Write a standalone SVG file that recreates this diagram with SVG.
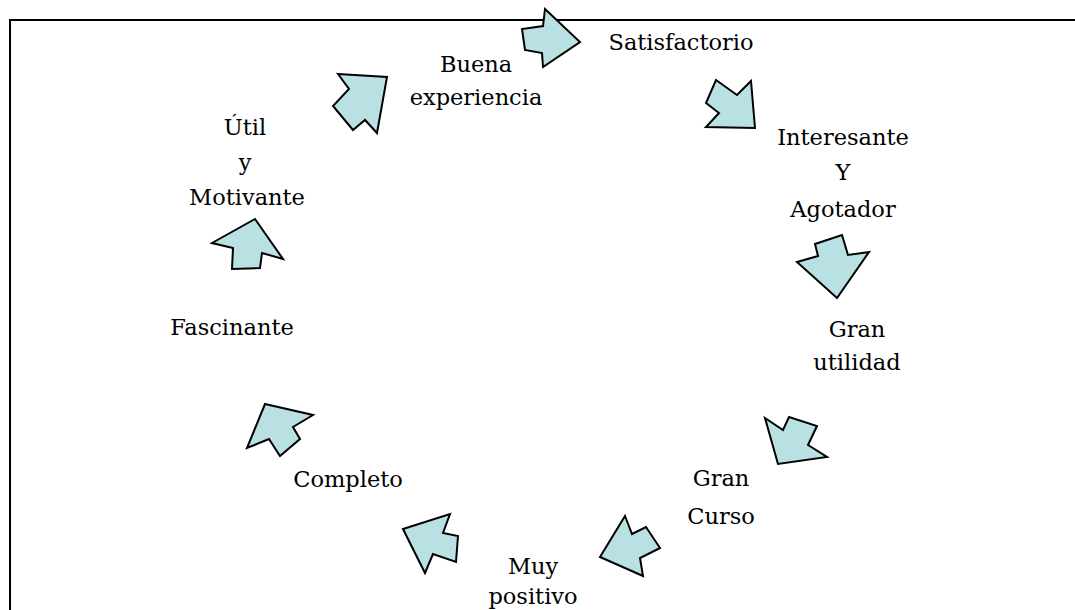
<svg xmlns="http://www.w3.org/2000/svg" width="1075" height="610" viewBox="0 0 1075 610">
<style>
.frame{fill:none;stroke:#000;stroke-width:2}
.arr{fill:#b9e0e3;stroke:#000;stroke-width:2;stroke-linejoin:miter}
text{font-family:"DejaVu Serif","Liberation Serif",serif;font-size:22.5px;fill:#000;text-anchor:middle}
</style>
<rect width="1075" height="610" fill="#fff"/>
<path class="frame" d="M10,610 V20 H1075"/>
<g id="connectors">
<polygon class="arr" points="545,9 580,42 543,67 542,53 525,50 522,29 543,26"/>
<polygon class="arr" points="716,80 737,95 751,81 755,128 706,127 719,113 706,103"/>
<polygon class="arr" points="815,244 842,235 848,255 869,252 837,298 797,262 818,256"/>
<polygon class="arr" points="765,418 783,430 789,417 817,426 808,445 827,457 778,464"/>
<polygon class="arr" points="625,516 632,534 646,527 660,548 640,558 643,576 600,557"/>
<polygon class="arr" points="403,529 450,514 443,533 458,536 456,562 433,554 425,573"/>
<polygon class="arr" points="265,404 313,415 293,427 300,439 280,456 269,439 247,448"/>
<polygon class="arr" points="255,219 283,259 262,253 260,268 232,269 233,248 212,243"/>
<polygon class="arr" points="338,74 387,77 377,133 365,120 353,130 333,106 349,89"/>
</g>
<g id="satisfactorio"><text x="681" y="50">Satisfactorio</text></g>
<g id="buena"><text x="476" y="72">Buena</text><text x="476" y="105">experiencia</text></g>
<g id="interesante"><text x="843" y="145">Interesante</text><text x="843" y="180">Y</text><text x="843" y="217">Agotador</text></g>
<g id="util"><text x="245" y="135">Útil</text><text x="245" y="170">y</text><text x="247" y="205">Motivante</text></g>
<g id="granutilidad"><text x="857" y="337">Gran</text><text x="857" y="370">utilidad</text></g>
<g id="fascinante"><text x="232" y="335">Fascinante</text></g>
<g id="completo"><text x="348" y="487">Completo</text></g>
<g id="grancurso"><text x="721" y="486">Gran</text><text x="721" y="524">Curso</text></g>
<g id="muypositivo"><text x="533" y="574">Muy</text><text x="533" y="604">positivo</text></g>
</svg>
